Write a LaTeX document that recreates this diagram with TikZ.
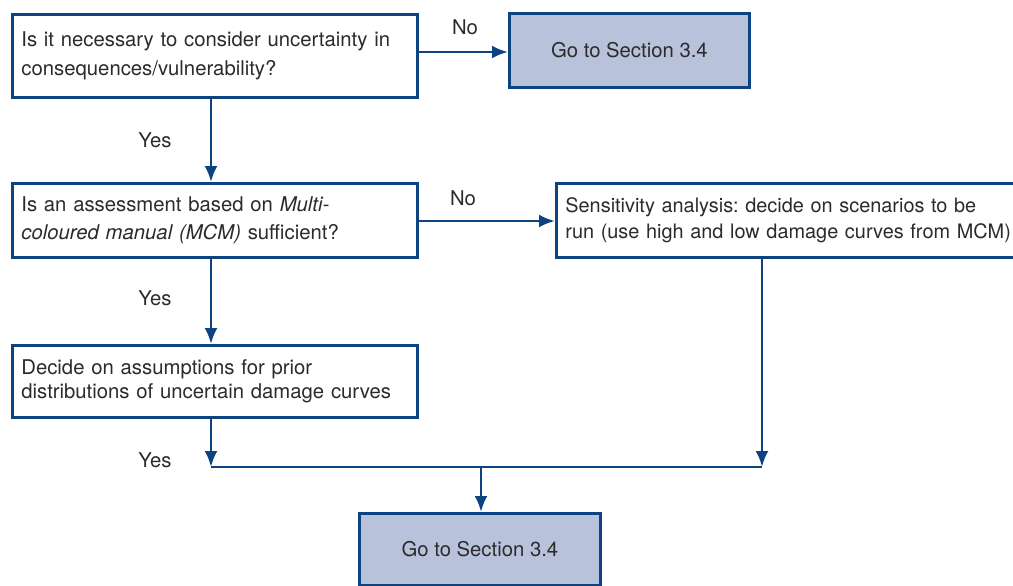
\documentclass[tikz,border=0pt]{standalone}
\usepackage{fontspec}
\setmainfont{TeX Gyre Heros}
\usetikzlibrary{arrows.meta}
\definecolor{navy}{HTML}{0E4382}
\definecolor{boxfill}{HTML}{B9C2DB}
\definecolor{txt}{HTML}{2B2B2B}
\frenchspacing
\begin{document}
\begin{tikzpicture}[x=1pt,y=-1pt,
  every node/.style={text=txt,font=\fontsize{20.3}{28.5}\selectfont},
  qbox/.style={draw=navy,line width=2.8pt,fill=white,anchor=north west,align=left,inner xsep=9pt,inner ysep=0pt},
  gobox/.style={draw=navy,line width=2.8pt,fill=boxfill,anchor=north west,align=center,inner sep=0pt},
  flow/.style={draw=navy,line width=2.8pt,-{Latex[length=16pt,width=13pt]}},
  plain/.style={draw=navy,line width=2.8pt},
  lbl/.style={anchor=center,inner sep=0pt}]
\useasboundingbox (0,0) rectangle (1013,586);
\node[qbox,minimum width=405pt,minimum height=83pt,text width=387pt] (q1) at (11,13)
  {Is it necessary to consider uncertainty in\\consequences/vulnerability?};
\node[gobox,minimum width=240pt,minimum height=74pt] (go1) at (508,12) {Go to Section 3.4};
\node[qbox,minimum width=405pt,minimum height=74pt,text width=387pt] (q2) at (11,182)
  {Is an assessment based on \textit{Multi-}\\\textit{coloured manual (MCM)} sufficient?};
\node[qbox,minimum width=470pt,minimum height=74pt,text width=452pt,font=\fontsize{19.9}{26}\selectfont] (q3) at (555,182)
  {Sensitivity analysis: decide on scenarios to be\\run (use high and low damage curves from MCM)};
\node[qbox,minimum width=405pt,minimum height=72pt,text width=387pt,font=\fontsize{20.3}{24.5}\selectfont] (q4) at (11,344)
  {Decide on assumptions for prior\\distributions of uncertain damage curves};
\node[gobox,minimum width=241pt,minimum height=72pt] (go2) at (358,512) {Go to Section 3.4};
\coordinate (j1) at (211,467);
\coordinate (j2) at (762,467);
\coordinate (jm) at (481,467);
\draw[flow] (q1.east |- 0,52) -- (go1.west |- 0,52);
\draw[flow] (q1.south -| j1) -- (q2.north -| j1);
\draw[flow] (q2.east |- 0,221) -- (q3.west |- 0,221);
\draw[flow] (q2.south -| j1) -- (q4.north -| j1);
\draw[flow] (q4.south -| j1) -- (j1);
\draw[flow] (q3.south -| j2) -- (j2);
\draw[plain] (j1) -- (j2);
\draw[flow] (jm) -- (go2.north -| jm);
\node[lbl] (n1) at (465,27) {No};
\node[lbl] (n2) at (463,198) {No};
\node[lbl] (y1) at (155,140) {Yes};
\node[lbl] (y2) at (155,298) {Yes};
\node[lbl] (y3) at (155,460) {Yes};
\end{tikzpicture}
\end{document}
